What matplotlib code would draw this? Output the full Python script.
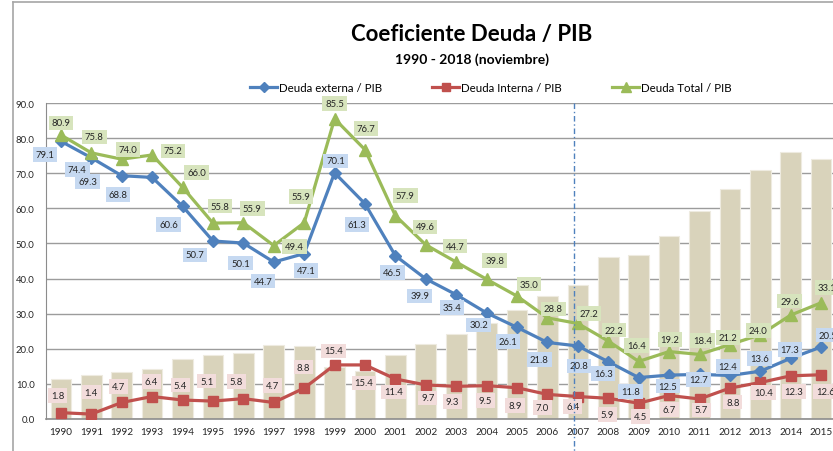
import matplotlib.pyplot as plt
from matplotlib.lines import Line2D
import numpy as np

plt.rcParams['font.family'] = ['Lato', 'DejaVu Sans']

###########################################################
### -------------------- DATA ------------------------------
###########################################################

years = [str(y) for y in range(1990, 2016)]

# PIB bars (background, same scale)
pib = [11.4, 12.6, 13.4, 14.2, 17.0, 18.2, 18.8, 21.0, 20.8, 14.7,
       13.7, 18.3, 21.3, 24.1, 27.3, 31.0, 34.9, 38.1, 46.1, 46.7,
       52.0, 59.2, 65.6, 71.0, 76.0, 74.1]

deuda_externa = [79.1, 74.4, 69.3, 68.8, 60.6, 50.7, 50.1, 44.7, 47.1, 70.1,
                 61.3, 46.5, 39.9, 35.4, 30.2, 26.1, 21.8, 20.8, 16.3, 11.8,
                 12.5, 12.7, 12.4, 13.6, 17.3, 20.5]

deuda_interna = [1.8, 1.4, 4.7, 6.4, 5.4, 5.1, 5.8, 4.7, 8.8, 15.4,
                 15.4, 11.4, 9.7, 9.3, 9.5, 8.9, 7.0, 6.4, 5.9, 4.5,
                 6.7, 5.7, 8.8, 10.4, 12.3, 12.6]

deuda_total = [80.9, 75.8, 74.0, 75.2, 66.0, 55.8, 55.9, 49.4, 55.9, 85.5,
               76.7, 57.9, 49.6, 44.7, 39.8, 35.0, 28.8, 27.2, 22.2, 16.4,
               19.2, 18.4, 21.2, 24.0, 29.6, 33.1]

###########################################################
### -------------------- LABEL PLACEMENT (pixels) ----------
###########################################################

off_ext = [(-16, 13), (-14, 12), (-34, 6), (-34, 17), (-14, 18), (-18, 14), (-3, 20), (-11, 19),
           (2, 17), (1, -12), (-8, 21), (-3, 17), (-6, 17), (-4, 13), (-8, 12), (-9, 14),
           (-8, 17), (1, 20), (-5, 12), (-8, 14), (-1, 11), (-1, 5), (-2, -9), (-1, -13),
           (-1, -9), (7, -12)]
off_int = [(-3, -17), (0, -22), (-3, -16), (-1, -15), (-2, -15), (-6, -20), (-7, -17), (-1, -17),
           (-1, -21), (-1, -14), (-1, 18), (-2, 13), (2, 13), (-4, 15), (-1, 15), (-2, 18),
           (-5, 13), (-5, 10), (-1, 16), (2, 13), (0, 14), (2, 11), (3, 14), (3, 10),
           (3, 16), (4, 17)]
off_tot = [(0, -12), (3, -16), (6, -10), (21, -4), (14, -15), (7, -17), (9, -14), (21, 1),
           (-3, -26), (0, -15), (1, -21), (10, -20), (-1, -18), (-1, -16), (8, -19), (12, -12),
           (6, -9), (11, -10), (6, -11), (-2, -16), (1, -12), (3, -14), (-2, -7), (-2, -4),
           (-1, -14), (6, -15)]

c_ext = '#4F81BD'
c_int = '#C0504D'
c_tot = '#9BBB59'
c_bar = '#D9D3BB'

W, H = 833, 452
fig = plt.figure(figsize=(W / 100, H / 100), dpi=100)
ax = fig.add_axes([45.7 / W, 1 - 420 / H, 1 - 45.7 / W, (420 - 104) / H])

x = np.arange(len(years))

ax.bar(x, pib, width=0.68, color=c_bar, edgecolor='#EEEBE0', linewidth=0.8, zorder=1)

ax.plot(x, deuda_interna, color=c_int, lw=2.3, marker='s', ms=6.5, zorder=3)
ax.plot(x, deuda_externa, color=c_ext, lw=2.3, marker='D', ms=6, zorder=3)
ax.plot(x, deuda_total, color=c_tot, lw=2.3, marker='^', ms=8, zorder=3)


def put_labels(vals, offs, face):
    for i in range(len(vals)):
        dx, dy = offs[i]
        ax.annotate('%.1f' % vals[i], (x[i], vals[i]), xytext=(dx * 0.72, -dy * 0.72),
                    textcoords='offset points', ha='center', va='center', fontsize=6.8,
                    color='#262626', zorder=4, annotation_clip=False,
                    bbox=dict(boxstyle='square,pad=0.3', fc=face, ec='none'))


put_labels(deuda_externa, off_ext, '#C6D9F1')
put_labels(deuda_interna, off_int, '#F2DCDB')
put_labels(deuda_total, off_tot, '#D7E4BD')

# dashed marker line near 2007
ax.plot([16.87, 16.87], [90, -9.5], color='#4F81BD', lw=1.0, ls=(0, (4, 2, 1, 2)),
        zorder=5, clip_on=False)

ax.set_xlim(-0.5, 25.39)
ax.set_ylim(0, 90)
ax.set_yticks(np.arange(0, 91, 10))
ax.set_yticklabels(['%.1f' % v for v in np.arange(0, 91, 10)], fontsize=6.8, color='#262626')
ax.set_xticks(x)
ax.set_xticklabels(years, fontsize=7.2, color='#262626')
ax.tick_params(length=0, pad=8)
ax.tick_params(axis='x', pad=6)
ax.yaxis.grid(True, color='#9C9C9C', lw=1.0, zorder=0)
ax.set_axisbelow(True)
for s in ['top', 'right']:
    ax.spines[s].set_visible(False)
ax.spines['left'].set_color('#8C8C8C')
ax.spines['bottom'].set_color('#8C8C8C')
ax.spines['bottom'].set_linewidth(1.2)

# titles
fig.text(472 / W, 1 - 35 / H, 'Coeficiente Deuda / PIB', ha='center', va='center',
         fontsize=16, fontweight='bold', color='black')
fig.text(472 / W, 1 - 60 / H, '1990 - 2018 (noviembre)', ha='center', va='center',
         fontsize=10, fontweight='bold', color='black')

# legend drawn by hand
leg = [(250, 'Deuda externa / PIB', c_ext, 'D', 5),
       (432, 'Deuda Interna / PIB', c_int, 's', 5.5),
       (612, 'Deuda Total / PIB', c_tot, '^', 6.5)]
ly = 1 - 88 / H
for x0, txt, col, mk, ms in leg:
    fig.add_artist(Line2D([x0 / W, (x0 + 27) / W], [ly, ly], color=col, lw=2.3,
                          transform=fig.transFigure))
    fig.add_artist(Line2D([(x0 + 13.5) / W], [ly], color=col, marker=mk, ms=ms,
                          transform=fig.transFigure))
    fig.text((x0 + 29) / W, ly, txt, ha='left', va='center', fontsize=8.3, color='black')

# chart frame
fig.add_artist(Line2D([13 / W, 1], [1 - 3 / H, 1 - 3 / H], color='#A6A6A6', lw=1.2,
                      transform=fig.transFigure))
fig.add_artist(Line2D([13 / W, 13 / W], [0, 1 - 3 / H], color='#A6A6A6', lw=1.2,
                      transform=fig.transFigure))

plt.savefig('out.png', dpi=100)
